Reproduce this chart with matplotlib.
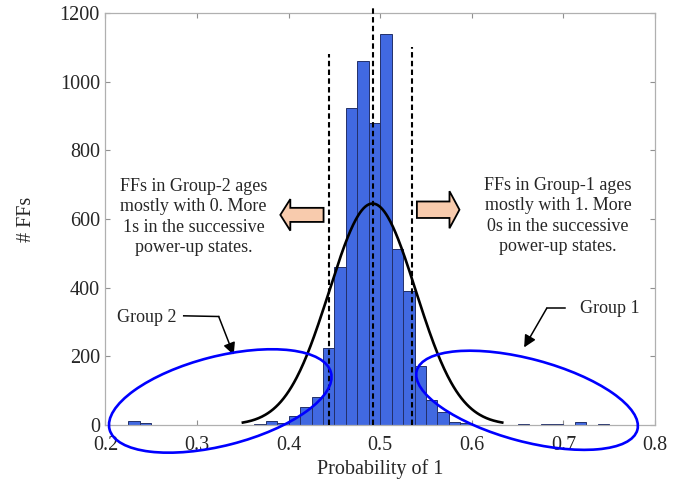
import numpy as np
import matplotlib
matplotlib.use("Agg")
import matplotlib.pyplot as plt
from matplotlib.patches import Ellipse, FancyArrow
from matplotlib import transforms

# ---------------- data ----------------
bin_width = 0.0125
bin_start = 0.2
# counts per bin, bins of width 0.0125 from 0.2 to 0.8 (48 bins)
counts = [0, 0, 12, 5, 0, 0, 0, 0, 0, 0, 0, 0, 0,
          2, 12, 7, 26, 53, 83, 224, 459, 924, 1060, 881, 1138,
          512, 390, 171, 73, 38, 8, 5, 0, 0, 0, 0, 4, 0, 4, 4,
          0, 8, 0, 2, 0, 0, 0, 0]
fit_mu = 0.4916
fit_sigma = 0.0472
vline_x = [0.4444, 0.4916, 0.535]
vline_top = [1080, 1215, 1100]
xticks = [0.2, 0.3, 0.4, 0.5, 0.6, 0.7, 0.8]
yticks = [0, 200, 400, 600, 800, 1000, 1200]

text_left = "FFs in Group-2 ages\nmostly with 0. More\n1s in the successive\npower-up states."
text_right = "FFs in Group-1 ages\nmostly with 1. More\n0s in the successive\npower-up states."

# ---------------- figure ----------------
plt.rcParams['font.family'] = ['Liberation Serif', 'DejaVu Serif']
tc = '#262626'
fig = plt.figure(figsize=(6.93, 4.87), dpi=100)
ax = fig.add_axes([105.5 / 693, 62 / 487, 549.5 / 693, 412 / 487])

edges = bin_start + bin_width * np.arange(len(counts))
ax.bar(edges, counts, width=bin_width, align='edge', color='#4169E1',
       edgecolor='#23306a', linewidth=0.7, zorder=2)

# normal fit (histfit style)
N = sum(counts)
xf = np.linspace(fit_mu - 3 * fit_sigma, fit_mu + 3 * fit_sigma, 300)
yf = N * bin_width * np.exp(-0.5 * ((xf - fit_mu) / fit_sigma) ** 2) / (fit_sigma * np.sqrt(2 * np.pi))
ax.plot(xf, yf, color='black', lw=1.9, zorder=4)

for xv, top in zip(vline_x, vline_top):
    ax.plot([xv, xv], [0, top], color='black', lw=1.5, dashes=(2.6, 1.6),
            zorder=5, clip_on=False)

ax.set_xlim(0.2, 0.8)
ax.set_ylim(0, 1200)
ax.set_xticks(xticks)
ax.set_xticklabels([f"{v:.1f}" for v in xticks])
ax.set_yticks(yticks)
ax.tick_params(axis='both', direction='in', length=3.6, width=0.8,
               color='#909090', labelsize=14.5, labelcolor=tc,
               top=True, right=True)
ax.tick_params(axis='x', pad=8)
ax.tick_params(axis='y', pad=4)
for s in ax.spines.values():
    s.set_color('#b0b0b0')
    s.set_linewidth(0.9)

ax.set_xlabel('Probability of 1', fontsize=14.5, color=tc, labelpad=3)
ax.set_ylabel('# FFs', fontsize=14.5, color=tc, labelpad=17)

# explanatory texts
ax.text(0.2963, 606, text_left, ha='center', va='center', fontsize=13,
        color=tc, linespacing=1.25, zorder=6)
ax.text(0.694, 609, text_right, ha='center', va='center', fontsize=13,
        color=tc, linespacing=1.25, zorder=6)

# block arrows
peach = '#F8CBAD'
ax.add_patch(FancyArrow(0.4381, 612, -0.0472, 0, width=41, head_width=92,
                        head_length=0.0109, length_includes_head=True,
                        facecolor=peach, edgecolor='black', lw=1.3, zorder=6))
ax.add_patch(FancyArrow(0.540, 627, 0.0465, 0, width=48, head_width=108,
                        head_length=0.0109, length_includes_head=True,
                        facecolor=peach, edgecolor='black', lw=1.3, zorder=6))

# ellipses (sizes in inches, centred on data points)
def ell(cx, cy, w, h, ang):
    tr = fig.dpi_scale_trans + transforms.ScaledTranslation(cx, cy, ax.transData)
    e = Ellipse((0, 0), w, h, angle=ang, transform=tr, fill=False,
                edgecolor='#0000ff', lw=1.9, clip_on=False, zorder=7)
    ax.add_patch(e)

ell(0.3253, 70, 2.286, 0.892, 14.4)
ell(0.6603, 72, 2.284, 0.824, -15.0)

# group labels with pointers
ax.text(0.2447, 313, 'Group 2', ha='center', va='center', fontsize=13, color=tc, zorder=6)
ax.plot([0.2854, 0.3236], [318, 316], color='black', lw=1.1, zorder=6)
ax.annotate('', xy=(0.3400, 204), xytext=(0.3236, 316),
            arrowprops=dict(arrowstyle='-|>', color='black', lw=1.1,
                            mutation_scale=18, shrinkA=0, shrinkB=0), zorder=6)

ax.text(0.7503, 338, 'Group 1', ha='center', va='center', fontsize=13, color=tc, zorder=6)
ax.plot([0.7018, 0.6818], [340, 340], color='black', lw=1.1, zorder=6)
ax.annotate('', xy=(0.6571, 226), xytext=(0.6818, 340),
            arrowprops=dict(arrowstyle='-|>', color='black', lw=1.1,
                            mutation_scale=18, shrinkA=0, shrinkB=0), zorder=6)

fig.savefig('out.png', dpi=100)
